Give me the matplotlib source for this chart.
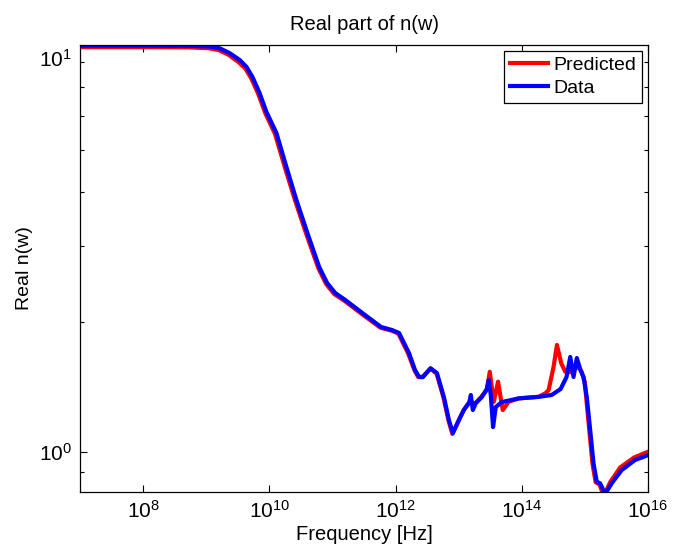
import numpy as np
import matplotlib
matplotlib.use('Agg')
import matplotlib.pyplot as plt
from matplotlib.ticker import FixedLocator, NullFormatter, LogFormatterSciNotation

plt.rcParams['font.family'] = ['Liberation Sans', 'DejaVu Sans']
plt.rcParams['mathtext.fontset'] = 'custom'
plt.rcParams['mathtext.rm'] = 'Liberation Sans'
plt.rcParams['mathtext.it'] = 'Liberation Sans:italic'
plt.rcParams['mathtext.bf'] = 'Liberation Sans:bold'

# ---- data (log10 of frequency in Hz, real refractive index) ----
log_freq_data = [7.0, 8.106, 8.738, 9.054, 9.212, 9.370, 9.528, 9.638, 9.733, 9.844, 9.954,
                 10.112, 10.270, 10.428, 10.602, 10.791, 10.918, 11.044, 11.202, 11.471, 11.771,
                 11.945, 12.055, 12.213, 12.308, 12.371, 12.434, 12.556, 12.656, 12.766, 12.845,
                 12.908, 13.003, 13.082, 13.169, 13.193, 13.224, 13.272, 13.366, 13.445, 13.477,
                 13.509, 13.545, 13.588, 13.682, 13.951, 14.267, 14.472, 14.615, 14.709, 14.768,
                 14.820, 14.872, 14.930, 14.978, 15.030, 15.084, 15.136, 15.188, 15.242, 15.321,
                 15.425, 15.583, 15.795, 16.0]
n_data = [8.75, 8.75, 8.74, 8.71, 8.63, 8.41, 8.11, 7.81, 7.40, 6.80, 6.14,
          5.49, 4.58, 3.84, 3.22, 2.68, 2.46, 2.335, 2.25, 2.10, 1.947,
          1.916, 1.886, 1.694, 1.548, 1.493, 1.491, 1.562, 1.522, 1.339, 1.185,
          1.105, 1.185, 1.250, 1.304, 1.354, 1.250, 1.297, 1.339, 1.398, 1.467,
          1.354, 1.141, 1.270, 1.304, 1.330, 1.341, 1.354, 1.398, 1.491, 1.659,
          1.491, 1.650, 1.548, 1.491, 1.339, 1.123, 0.941, 0.852, 0.845, 0.798,
          0.845, 0.907, 0.957, 0.982]

log_freq_pred = [7.0, 8.106, 8.72, 9.034, 9.19, 9.35, 9.508, 9.618, 9.713, 9.824, 9.934,
                 10.09, 10.25, 10.41, 10.585, 10.775, 10.90, 11.03, 11.19, 11.46, 11.76,
                 11.935, 12.045, 12.20, 12.30, 12.36, 12.425, 12.55, 12.65, 12.76, 12.84,
                 12.90, 13.0, 13.08, 13.17, 13.19, 13.224, 13.272, 13.366, 13.445, 13.493,
                 13.556, 13.624, 13.698, 13.793, 13.951, 14.267, 14.373, 14.425, 14.504, 14.557,
                 14.626, 14.689, 14.77, 14.85, 14.90, 14.95, 15.0, 15.02, 15.07, 15.12,
                 15.17, 15.23, 15.30, 15.40, 15.56, 15.78, 16.0]
n_pred = [8.68, 8.68, 8.67, 8.63, 8.55, 8.34, 8.02, 7.75, 7.35, 6.76, 6.11,
          5.46, 4.55, 3.82, 3.20, 2.67, 2.45, 2.32, 2.24, 2.09, 1.94,
          1.91, 1.88, 1.69, 1.545, 1.49, 1.489, 1.56, 1.52, 1.335, 1.18,
          1.10, 1.18, 1.25, 1.30, 1.32, 1.29, 1.30, 1.345, 1.39, 1.533,
          1.306, 1.454, 1.25, 1.306, 1.33, 1.341, 1.366, 1.39, 1.575, 1.769,
          1.604, 1.533, 1.53, 1.56, 1.575, 1.53, 1.45, 1.34, 1.12, 0.94,
          0.85, 0.84, 0.79, 0.85, 0.92, 0.97, 1.0]

series_labels = ['Predicted', 'Data']
x_major_ticks = [1e8, 1e10, 1e12, 1e14, 1e16]
y_major_ticks = [1.0]
y_minor_ticks = [0.9, 2, 3, 4, 5, 6, 7, 8]

fig = plt.figure(figsize=(6.81, 5.44), dpi=100)
ax = fig.add_axes([80 / 681, 1 - 491.7 / 544, 568 / 681, 446.7 / 544])

ax.plot(10 ** np.array(log_freq_pred), n_pred, color='#ff0000', lw=3.0,
        label=series_labels[0], solid_joinstyle='round')
ax.plot(10 ** np.array(log_freq_data), n_data, color='#0000ff', lw=3.0,
        label=series_labels[1], solid_joinstyle='round')
ax.set_xscale('log')
ax.set_yscale('log')
ax.set_xlim(1e7, 1e16)
ax.set_ylim(0.808, 8.78)

ax.xaxis.set_major_locator(FixedLocator(x_major_ticks))
ax.xaxis.set_minor_locator(FixedLocator([]))
ax.xaxis.set_major_formatter(LogFormatterSciNotation())
ax.yaxis.set_major_locator(FixedLocator(y_major_ticks))
ax.yaxis.set_minor_locator(FixedLocator(y_minor_ticks))
ax.yaxis.set_major_formatter(LogFormatterSciNotation())
ax.yaxis.set_minor_formatter(NullFormatter())

ax.tick_params(which='both', direction='in', top=True, right=True, colors='black',
               labelsize=15, width=0.8)
ax.tick_params(which='major', length=5, pad=6)
ax.tick_params(which='minor', length=3)
for s in ax.spines.values():
    s.set_linewidth(0.9)

# the reference shows the 10^1 label next to the top of the axis
ax.annotate('$\\mathdefault{10^{1}}$', xy=(0, 8.13), xycoords=('axes fraction', 'data'),
            xytext=(-6, 0), textcoords='offset points', ha='right', va='center', fontsize=15)

ax.set_title('Real part of n(w)', fontsize=14.5, pad=11)
ax.set_xlabel('Frequency [Hz]', fontsize=14.5, labelpad=2)
ax.set_ylabel('Real n(w)', fontsize=14, labelpad=4)

leg = ax.legend(loc='upper right', fontsize=14, frameon=True, fancybox=False,
                edgecolor='black', framealpha=1, borderaxespad=0.3, handlelength=1.95,
                handletextpad=0.3, borderpad=0.3, labelspacing=0.25)
leg.get_frame().set_linewidth(0.9)

fig.savefig('out.png', dpi=100)
